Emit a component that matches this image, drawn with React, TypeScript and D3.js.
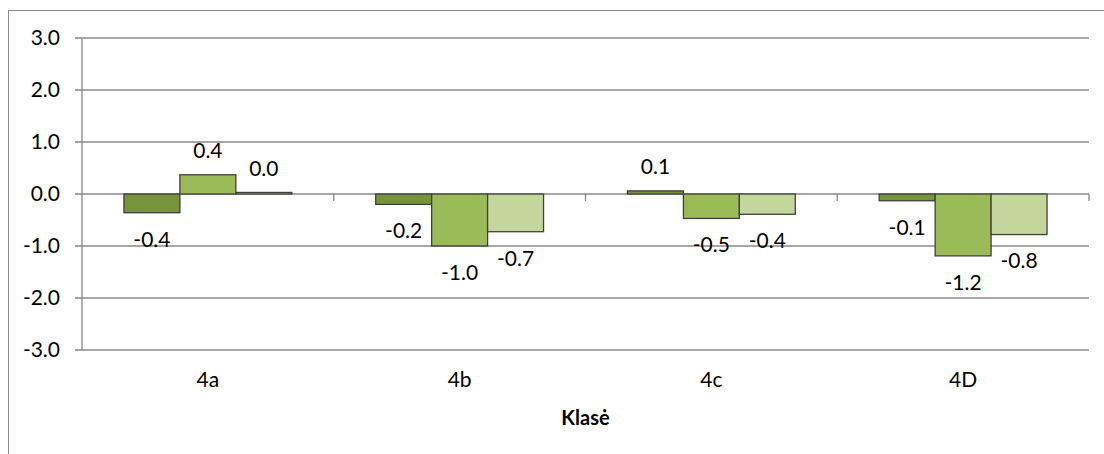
import React from "react";
import * as d3 from "d3";

const categories = ["4a", "4b", "4c", "4D"];
const seriesNames = ["S1", "S2", "S3"];
const series1 = [-0.36, -0.2, 0.06, -0.13];
const series2 = [0.37, -1.0, -0.47, -1.19];
const series3 = [0.03, -0.725, -0.39, -0.78];
const seriesColors = ["#77933C", "#9BBB59", "#C3D69B"];
const yTicks = [3, 2, 1, 0, -1, -2, -3];
const xTitle = "Klasė";

const W = 1104;
const H = 454;
const plot = { left: 82, right: 1089, top: 38, bottom: 350 };
const FONT = "Lato, 'Open Sans', sans-serif";
const GRID = "#898989";

export default function App() {
  const allSeries = [series1, series2, series3];
  const x = d3.scaleBand<string>().domain(categories).range([plot.left, plot.right]).paddingInner(0).paddingOuter(0);
  const bw = x.bandwidth();
  const barW = bw / 4.5;
  const xs = d3.scaleBand<string>().domain(seriesNames).range([0.75 * barW, 3.75 * barW]).padding(0);
  const y = d3.scaleLinear().domain([-3, 3]).range([plot.bottom, plot.top]);
  const y0 = y(0);

  return (
    <svg width={W} height={H} style={{ position: "absolute", left: 0, top: 0, background: "#fff" }}>
      <rect x={8.5} y={10.5} width={W + 20} height={H + 20} fill="#fff" stroke={GRID} strokeWidth={1} />
      {yTicks.map((t) => (
        <g key={t}>
          <line x1={plot.left - 7} x2={plot.right} y1={y(t)} y2={y(t)} stroke={GRID} strokeWidth={1.3} />
          <text x={60} y={y(t) + 7.4} textAnchor="end" fontFamily={FONT} fontSize={21} fill="#000">
            {t.toFixed(1)}
          </text>
        </g>
      ))}
      <line x1={plot.left} x2={plot.left} y1={plot.top} y2={plot.bottom} stroke={GRID} strokeWidth={1.3} />
      {categories.map((c) => (
        <line key={"t" + c} x1={x(c)! + bw} x2={x(c)! + bw} y1={y0} y2={y0 + 7} stroke={GRID} strokeWidth={1.3} />
      ))}
      {categories.map((c, ci) =>
        allSeries.map((s, si) => {
          const v = s[ci];
          const bx = x(c)! + xs(seriesNames[si])!;
          const top = Math.min(y(v), y0);
          const h = Math.abs(y(v) - y0);
          return (
            <rect key={c + si} x={bx} y={top} width={xs.bandwidth()} height={h} fill={seriesColors[si]} stroke="#404040" strokeWidth={1.3} />
          );
        })
      )}
      {categories.map((c, ci) =>
        allSeries.map((s, si) => {
          const v = s[ci];
          const cx = x(c)! + xs(seriesNames[si])! + xs.bandwidth() / 2;
          const ly = v >= 0 ? y(v) - 16.4 : y(v) + 33.8;
          return (
            <text key={"l" + c + si} x={cx} y={ly} textAnchor="middle" fontFamily={FONT} fontSize={21} fill="#000">
              {v.toFixed(1)}
            </text>
          );
        })
      )}
      {categories.map((c) => (
        <text key={"c" + c} x={x(c)! + bw / 2} y={386.5} textAnchor="middle" fontFamily={FONT} fontSize={21} fill="#000">
          {c}
        </text>
      ))}
      <text x={(plot.left + plot.right) / 2} y={425} textAnchor="middle" fontFamily={FONT} fontSize={20} fontWeight="bold" fill="#000">
        {xTitle}
      </text>
    </svg>
  );
}
